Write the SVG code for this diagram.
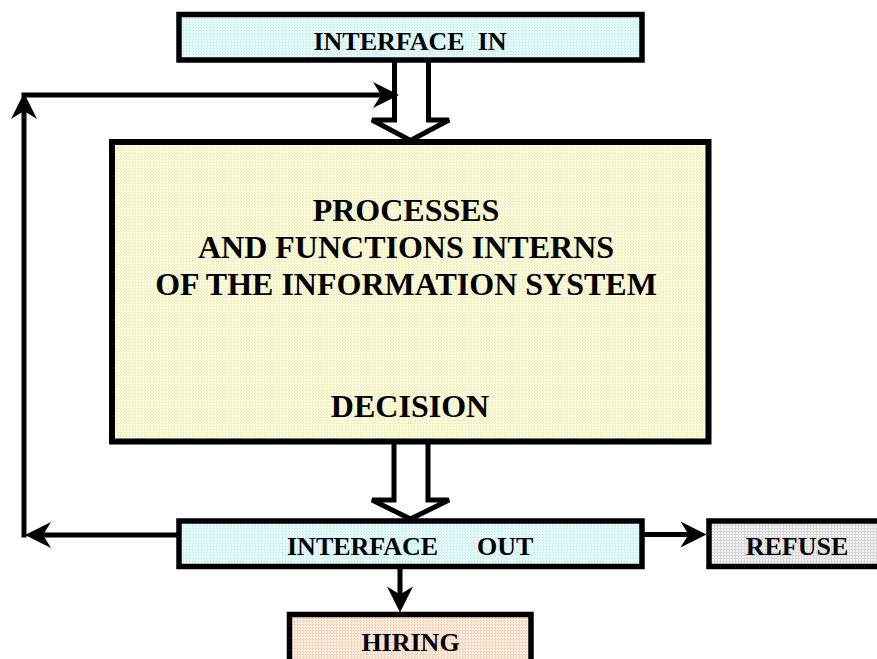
<svg xmlns="http://www.w3.org/2000/svg" width="877" height="659" viewBox="0 0 877 659">
  <style>
    .box { stroke: #000; stroke-width: 5.5; }
    .main { stroke: #000; stroke-width: 6; }
    .label { font-family: "Liberation Serif", "Times New Roman", serif; font-weight: bold; fill: #000; }
    .small { font-size: 26px; }
    .big { font-size: 32px; }
    .wire { fill: none; stroke: #000; stroke-width: 5; }
    .hollow { fill: #fff; stroke: #000; stroke-width: 5; stroke-linejoin: miter; }
  </style>
  <defs>
    <!-- faint gridded fills -->
    <pattern id="gridCyan" width="3" height="3" patternUnits="userSpaceOnUse">
      <rect width="3" height="3" fill="#eaffff"/>
      <path d="M0,0.5H3M0.5,0V3" stroke="#d2f2f2" stroke-width="1"/>
    </pattern>
    <pattern id="gridYellow" width="3" height="3" patternUnits="userSpaceOnUse">
      <rect width="3" height="3" fill="#ffffe4"/>
      <path d="M0,0.5H3M0.5,0V3" stroke="#f2f2c6" stroke-width="1"/>
    </pattern>
    <pattern id="gridGray" width="3" height="3" patternUnits="userSpaceOnUse">
      <rect width="3" height="3" fill="#f2f2f2"/>
      <path d="M0,0.5H3M0.5,0V3" stroke="#d8d8d8" stroke-width="1"/>
    </pattern>
    <pattern id="gridPeach" width="3" height="3" patternUnits="userSpaceOnUse">
      <rect width="3" height="3" fill="#fff0e2"/>
      <path d="M0,0.5H3M0.5,0V3" stroke="#f6d8c2" stroke-width="1"/>
    </pattern>
    <!-- notched arrowhead, tip 16px past the end of the line -->
    <marker id="head" viewBox="-27 -14 28 28" markerWidth="28" markerHeight="28"
            refX="-16" refY="0" orient="auto" markerUnits="userSpaceOnUse" overflow="visible">
      <path d="M0,0 L-26,-13 L-18,0 L-26,13 Z" fill="#000"/>
    </marker>
  </defs>

  <rect width="877" height="659" fill="#fff"/>

  <g id="connectors">
    <!-- wide hollow arrows between the interfaces and the core -->
    <path class="hollow" d="M394.5,58 V120 H372 L410.5,140.5 L449,120 H428.5 V58"/>
    <path class="hollow" d="M394,440 V500 H372 L410.5,519 L449,500 H428 V440"/>
    <!-- feedback loop -->
    <path class="wire" d="M24,537.5 V109" marker-end="url(#head)"/>
    <path class="wire" d="M21.5,95 H383" marker-end="url(#head)"/>
    <path class="wire" d="M178,535 H41" marker-end="url(#head)"/>
    <!-- outcomes -->
    <path class="wire" d="M644,534.5 H690.5" marker-end="url(#head)"/>
    <path class="wire" d="M400,568 V596.5" marker-end="url(#head)"/>
  </g>

  <g id="interface-in">
    <rect class="box" x="179" y="14.5" width="463" height="45.5" fill="url(#gridCyan)"/>
    <text class="label small" x="410" y="50" text-anchor="middle">INTERFACE&#160; IN</text>
  </g>

  <g id="core">
    <rect class="main" x="112" y="142" width="596.5" height="299.5" fill="url(#gridYellow)"/>
    <text class="label big" text-anchor="middle">
      <tspan x="410" y="221">PROCESSES</tspan>
      <tspan x="410" y="258">AND FUNCTIONS INTERNS</tspan>
      <tspan x="410" y="294.5">OF THE INFORMATION SYSTEM</tspan>
      <tspan x="410" y="417">DECISION</tspan>
    </text>
  </g>

  <g id="interface-out">
    <rect class="box" x="179" y="521" width="463" height="45.5" fill="url(#gridCyan)"/>
    <text class="label small" y="555"><tspan x="287">INTERFACE</tspan><tspan x="477">OUT</tspan></text>
  </g>

  <g id="refuse">
    <rect class="box" x="709" y="521" width="176" height="45.5" fill="url(#gridGray)"/>
    <text class="label small" x="797" y="555" text-anchor="middle">REFUSE</text>
  </g>

  <g id="hiring">
    <rect class="box" x="289.5" y="614.5" width="241.5" height="60" fill="url(#gridPeach)"/>
    <text class="label small" x="410.5" y="651" text-anchor="middle">HIRING</text>
  </g>
</svg>
